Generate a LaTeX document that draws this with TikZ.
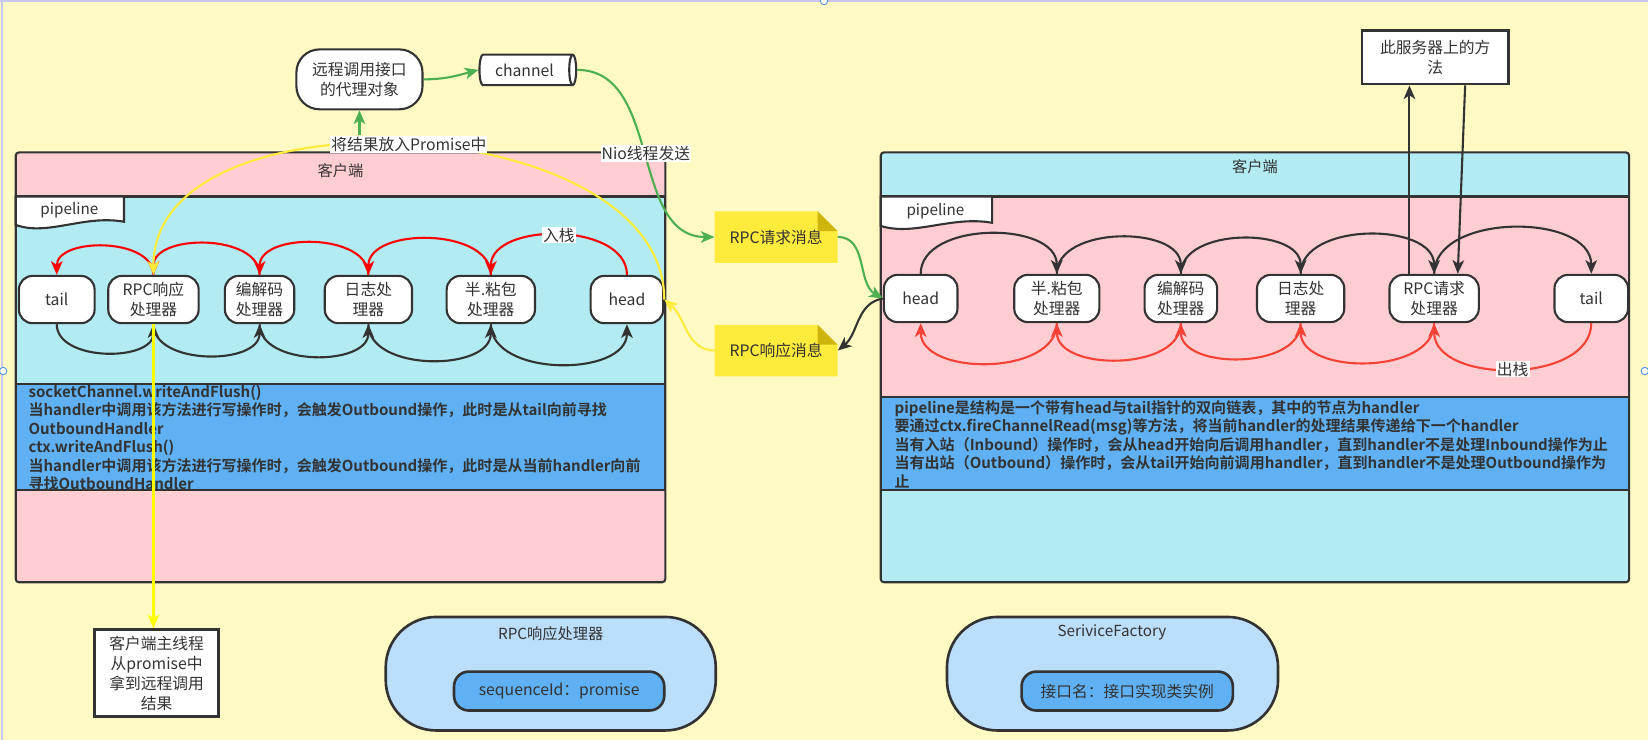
\documentclass[tikz,border=0pt]{standalone}
\usepackage{fontspec}
\setmainfont{Noto Sans CJK SC}[BoldFont={Noto Sans CJK SC Bold}]
\usepackage{tikz}
\usetikzlibrary{arrows.meta,shapes.geometric}

\definecolor{paper}{HTML}{FFF9C4}
\definecolor{rose}{HTML}{FFCDD2}
\definecolor{aqua}{HTML}{B2EBF2}
\definecolor{sky}{HTML}{5FB1F3}
\definecolor{pale}{HTML}{BBDEFB}
\definecolor{ink}{HTML}{333333}
\definecolor{memo}{HTML}{FFEB3B}
\definecolor{memofold}{HTML}{CDB50E}
\definecolor{inred}{HTML}{FF0000}
\definecolor{outred}{HTML}{F44336}
\definecolor{nio}{HTML}{4CAF50}
\definecolor{returnyellow}{HTML}{FFEB3B}
\definecolor{waityellow}{HTML}{FFFF00}
\definecolor{rimline}{HTML}{C8C8F0}
\definecolor{gripblue}{HTML}{4A90E2}

\tikzset{
  handler/.style={draw=ink, line width=2pt, fill=white, rounded corners=13pt,
    minimum height=45pt, inner sep=1pt, align=center, text=ink,
    font=\fontsize{15}{19}\selectfont},
  textbox/.style={draw=ink, line width=2.5pt, fill=white, align=center, text=ink,
    font=\fontsize{15}{19}\selectfont},
  memotext/.style={minimum width=117pt, minimum height=49pt, text=ink,
    font=\fontsize{15}{19}\selectfont},
  lane/.style={draw=ink, line width=2pt},
  caption/.style={text=ink, font=\fontsize{14.5}{18}\selectfont},
  notes/.style={anchor=north west, inner sep=0pt, align=left, text=ink,
    font=\bfseries\fontsize{14.3}{17.6}\selectfont},
  lbl/.style={fill=white, inner sep=1pt, text=ink, font=\fontsize{15}{18}\selectfont},
  pill/.style={draw=ink, line width=2.5pt, fill=pale, rounded corners=48pt,
    minimum width=314pt, minimum height=108pt},
  entry/.style={draw=ink, line width=2.5pt, fill=sky, rounded corners=14pt,
    minimum height=37pt, text=ink, font=\fontsize{15}{18}\selectfont},
  link/.style={line width=2pt, -{Stealth[length=13pt,width=11pt,inset=3.5pt]}},
}

\begin{document}
\begin{tikzpicture}[x=1pt,y=1pt]
\fill[paper] (0,0) rectangle (1568,-704);
\useasboundingbox (0,0) rectangle (1568,-704);
\draw[draw=rimline, line width=2pt] (0,-1) -- (1568,-1);
\draw[draw=rimline, line width=2pt] (2,0) -- (2,-704);
\foreach \hx/\hy in {784/-1, 3/-353, 1565/-353}
  \draw[draw=gripblue, fill=white, line width=0.8pt] (\hx,\hy) circle (3.5pt);

% client, left
\draw[lane, fill=rose, rounded corners=3pt] (15,-145) rectangle (633,-554);
\draw[lane, fill=aqua] (15,-187) rectangle (633,-365);
\draw[lane, fill=sky] (15,-365) rectangle (633,-466);
\draw[lane, fill=white] (15,-187) -- (118,-187) -- (118,-211) .. controls (80,-204) and (45,-225) .. (15,-214) -- cycle;
\node[caption] (ltitle) at (324,-162) {客户端};
\node[caption] (lpipe) at (66,-200) {pipeline};

\node[handler, minimum width=72pt] (ltail) at (54,-285) {tail};
\node[handler, minimum width=86pt] (lrpc) at (146,-285) {RPC响应\\处理器};
\node[handler, minimum width=66pt] (lcodec) at (247,-285) {编解码\\处理器};
\node[handler, minimum width=83pt] (llog) at (350.5,-285) {日志处\\理器};
\node[handler, minimum width=84pt] (lframe) at (467,-285) {半.粘包\\处理器};
\node[handler, minimum width=69pt] (lhead) at (596.5,-285) {head};

\node[notes] (lnotes) at (27,-366) {socketChannel.writeAndFlush()\\当handler中调用该方法进行写操作时，会触发Outbound操作，此时是从tail向前寻找\\OutboundHandler\\ctx.writeAndFlush()\\当handler中调用该方法进行写操作时，会触发Outbound操作，此时是从当前handler向前\\寻找OutboundHandler};

\foreach \a/\b in {lrpc/ltail, lcodec/lrpc, llog/lcodec, lframe/llog}
  \draw[link, draw=inred] (\a.north) to[out=90,in=90] (\b.north);
\draw[link, draw=inred] (lhead.north) to[out=90,in=90] node[lbl] (instack) {入栈} (lframe.north);
\foreach \a/\b in {ltail/lrpc, lrpc/lcodec, lcodec/llog, llog/lframe, lframe/lhead}
  \draw[link, draw=ink] (\a.south) to[out=-90,in=-90] (\b.south);

% server, right
\draw[lane, fill=aqua, rounded corners=3pt] (838,-145) rectangle (1550,-554);
\draw[lane, fill=rose] (838,-187) rectangle (1550,-378);
\draw[lane, fill=sky] (838,-378) rectangle (1550,-466);
\draw[lane, fill=white] (838,-187) -- (944,-187) -- (944,-212) .. controls (905,-205) and (870,-225) .. (838,-215) -- cycle;
\node[caption] (rtitle) at (1194,-159) {客户端};
\node[caption] (rpipe) at (890,-201) {pipeline};

\node[handler, minimum width=70pt] (rhead) at (876,-284) {head};
\node[handler, minimum width=81pt] (rframe) at (1005.5,-284) {半.粘包\\处理器};
\node[handler, minimum width=69pt] (rcodec) at (1123.5,-284) {编解码\\处理器};
\node[handler, minimum width=83pt] (rlog) at (1237.5,-284) {日志处\\理器};
\node[handler, minimum width=85pt] (rrpc) at (1364.5,-284) {RPC请求\\处理器};
\node[handler, minimum width=70pt] (rtail) at (1514,-284) {tail};

\node[notes] (rnotes) at (851,-381) {pipeline是结构是一个带有head与tail指针的双向链表，其中的节点为handler\\要通过ctx.fireChannelRead(msg)等方法，将当前handler的处理结果传递给下一个handler\\当有入站（Inbound）操作时，会从head开始向后调用handler，直到handler不是处理Inbound操作为止\\当有出站（Outbound）操作时，会从tail开始向前调用handler，直到handler不是处理Outbound操作为\\止};

\foreach \a/\b in {rhead/rframe, rframe/rcodec, rcodec/rlog, rlog/rrpc, rrpc/rtail}
  \draw[link, draw=ink] (\a.north) to[out=90,in=90] (\b.north);
\foreach \a/\b in {rframe/rhead, rcodec/rframe, rlog/rcodec, rrpc/rlog}
  \draw[link, draw=outred] (\a.south) to[out=-90,in=-90] (\b.south);
\draw[link, draw=outred] (rtail.south) to[out=-90,in=-90] node[lbl] (outstack) {出栈} (rrpc.south);

% messages
\fill[memo] (680,-201) -- (778,-201) -- (797,-220) -- (797,-250) -- (680,-250) -- cycle;
\fill[memofold] (778,-201) -- (778,-220) -- (797,-220) -- cycle;
\fill[memo] (680,-309) -- (778,-309) -- (797,-328) -- (797,-358) -- (680,-358) -- cycle;
\fill[memofold] (778,-309) -- (778,-328) -- (797,-328) -- cycle;
\node[memotext] (req) at (738.5,-225.5) {RPC请求消息};
\node[memotext] (resp) at (738.5,-333.5) {RPC响应消息};

\node[handler, minimum width=120pt, minimum height=57pt, rounded corners=22pt] (proxy) at (342,-75.5) {远程调用接口\\的代理对象};
\node[cylinder, draw=ink, line width=2pt, fill=white, minimum height=92pt, minimum width=29pt, aspect=0.35, text=ink, font=\fontsize{15}{18}\selectfont] (channel) at (499,-66.5) {channel};
\node[textbox, minimum width=139pt, minimum height=51pt] (method) at (1365.5,-54.5) {此服务器上的方\\法};
\node[textbox, minimum width=118pt, minimum height=83pt] (mainthread) at (149,-640.5) {客户端主线程\\从promise中\\拿到远程调用\\结果};

\node[pill] (rpcmap) at (524,-641) {};
\node[caption] (rpcmaptitle) at (524,-603) {RPC响应处理器};
\node[entry, minimum width=200pt] (rpcentry) at (532,-657.5) {sequenceId：promise};
\node[pill, minimum width=315pt] (factory) at (1058.5,-641) {};
\node[caption] (factorytitle) at (1058,-602) {SeriviceFactory};
\node[entry, minimum width=201pt] (factoryentry) at (1072.5,-657.5) {接口名：接口实现类实例};

\draw[link, draw=nio] (proxy.east) to[out=0,in=195] (channel.west);
\draw[link, draw=nio] (channel.east) to[out=0,in=180] node[lbl] (niosend) {Nio线程发送} (req.west);
\draw[link, draw=nio] (req.east) to[out=0,in=150] (rhead.west);
\draw[link, draw=ink] (rhead.west) to[out=190,in=40] (resp.east);
\draw[link, draw=returnyellow] (resp.west) to[out=180,in=-40] (lhead.east);
\draw[link, draw=returnyellow] (lhead.east) to[out=90,in=90,looseness=0.95] node[lbl] (promise) {将结果放入Promise中} (lrpc.north);
\draw[link, draw=nio] (proxy.south |- promise.north) -- (proxy.south);
\draw[link, draw=waityellow] (lrpc.south) -- (lrpc.south |- mainthread.north);
\draw[link, draw=ink] ([xshift=-23.5pt]rrpc.north) -- ([xshift=-23.5pt]rrpc.north |- method.south);
\draw[link, draw=ink] ([xshift=28.5pt]method.south) -- ([xshift=22.5pt]rrpc.north);
\end{tikzpicture}
\end{document}
